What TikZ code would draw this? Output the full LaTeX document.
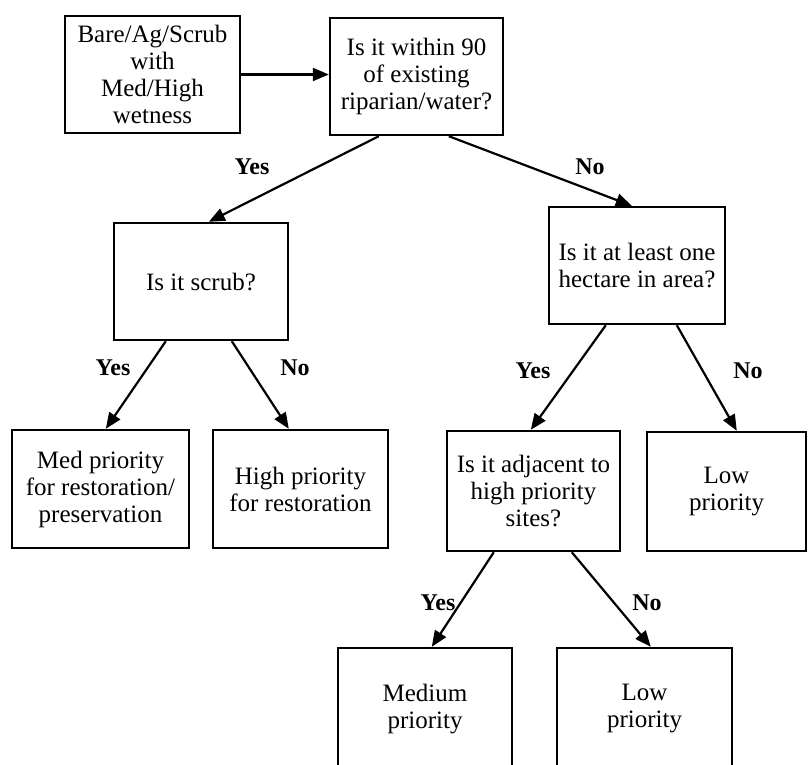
\documentclass[tikz,border=0pt]{standalone}
\usepackage{fontspec}
\setmainfont{Liberation Serif}
\usetikzlibrary{arrows.meta,calc}
\tikzset{
  box/.style={draw, line width=2.4pt, align=center, inner sep=0pt,
    font=\fontsize{25}{27}\selectfont},
  arr/.style={line width=2.2pt, -{Triangle[length=16pt,width=13pt]}},
  lbl/.style={font=\fontsize{24}{27}\selectfont\bfseries, inner sep=0pt}
}
\begin{document}
\begin{tikzpicture}[x=1pt,y=-1pt]
\useasboundingbox (0,0) rectangle (809,764);
\clip (0,0) rectangle (809,764);
\fill[white] (0,0) rectangle (809,764);
% boxes
\node[box, minimum width=175pt, minimum height=117pt] (b1) at (152.5,74.5) {Bare/Ag/Scrub\\with\\Med/High\\wetness};
\node[box, minimum width=173pt, minimum height=117pt] (b2) at (416.5,76.5) {Is it within 90\\of existing\\riparian/water?};
\node[box, minimum width=174pt, minimum height=117pt] (b3) at (201,281.5) {Is it scrub?};
\node[box, minimum width=176pt, minimum height=117pt] (b4) at (637,265.5) {Is it at least one\\hectare in area?};
\node[box, minimum width=177pt, minimum height=118pt] (b5) at (100.5,489) {Med priority\\for restoration/\\preservation};
\node[box, minimum width=175pt, minimum height=118pt] (b6) at (300.5,489) {High priority\\for restoration};
\node[box, minimum width=173pt, minimum height=120pt] (b7) at (533.5,491) {Is it adjacent to\\high priority\\sites?};
\node[box, minimum width=159pt, minimum height=119pt] (b8) at (726.5,491.5) {Low\\priority};
\node[box, minimum width=174pt, minimum height=122pt] (b9) at (425,709) {Medium\\priority};
\node[box, minimum width=175pt, minimum height=122pt] (b10) at (644.5,709) {Low\\priority};
% connectors
\draw[arr] (b1.east) -- (b1.east -| b2.west);
\draw[arr] ([xshift=50pt]b2.south west) -- ([xshift=96pt]b3.north west);
\draw[arr] ([xshift=120pt]b2.south west) -- ([xshift=84pt]b4.north west);
\draw[arr] ([xshift=53pt]b3.south west) -- ([xshift=95pt]b5.north west);
\draw[arr] ([xshift=119pt]b3.south west) -- ([xshift=77pt]b6.north west);
\draw[arr] ([xshift=58pt]b4.south west) -- ([xshift=85pt]b7.north west);
\draw[arr] ([xshift=129pt]b4.south west) -- ([xshift=91pt]b8.north west);
\draw[arr] ([xshift=48pt]b7.south west) -- ([xshift=95pt]b9.north west);
\draw[arr] ([xshift=126pt]b7.south west) -- ([xshift=95pt]b10.north west);
% labels
\node[lbl] (l1) at (252,167) {Yes};
\node[lbl] (l2) at (590,167) {No};
\node[lbl] (l3) at (113,368) {Yes};
\node[lbl] (l4) at (295,368) {No};
\node[lbl] (l5) at (533,371) {Yes};
\node[lbl] (l6) at (748,371) {No};
\node[lbl] (l7) at (438,603) {Yes};
\node[lbl] (l8) at (647,603) {No};
\end{tikzpicture}
\end{document}
